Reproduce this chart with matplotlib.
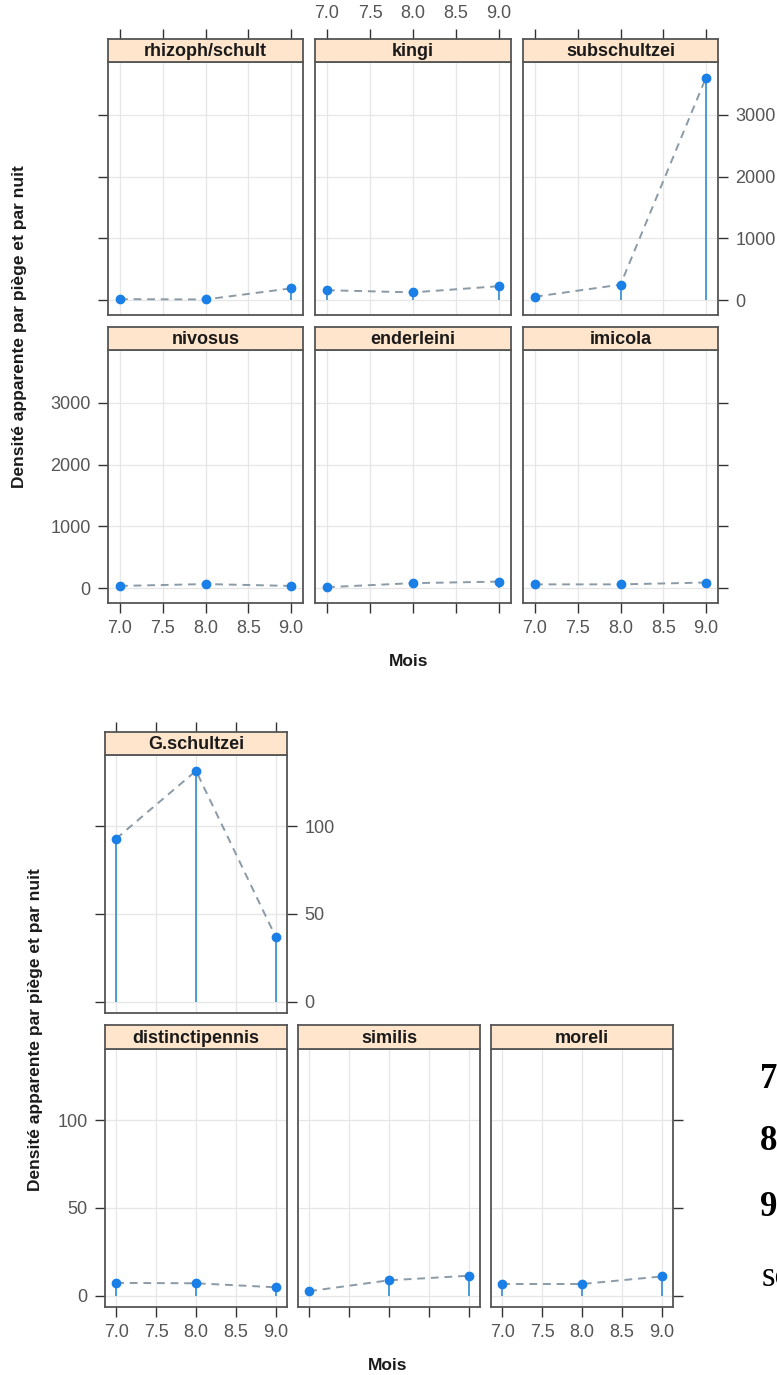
import numpy as np
import matplotlib
matplotlib.use('Agg')
import matplotlib.pyplot as plt

plt.rcParams['font.family'] = ['Liberation Sans', 'DejaVu Sans']

# donnees : densite apparente par piege et par nuit, mois 7 a 9
mois = [7.0, 8.0, 9.0]
x_ticks = [7.0, 7.5, 8.0, 8.5, 9.0]
x_labels = ['7.0', '7.5', '8.0', '8.5', '9.0']

# figure du haut
especes_1 = ['rhizoph/schult', 'kingi', 'subschultzei', 'nivosus', 'enderleini', 'imicola']
rhizoph = [15, 10, 190]
kingi = [160, 125, 225]
subschultzei = [55, 250, 3607]
nivosus = [35, 65, 35]
enderleini = [15, 80, 105]
imicola = [60, 60, 90]
y_ticks_1 = [0, 1000, 2000, 3000]

# figure du bas
especes_2 = ['G.schultzei', 'distinctipennis', 'similis', 'moreli']
g_schultzei = [93, 131.7, 36.8]
distinctipennis = [7.2, 7.0, 4.7]
similis = [2.5, 8.7, 11.3]
moreli = [6.6, 6.6, 10.9]
y_ticks_2 = [0, 50, 100]

W, H = 777, 1375
fig = plt.figure(figsize=(W / 100, H / 100), dpi=100)

drop_col = '#4b9ad6'
line_col = '#8a9aa6'
pt_col = '#1a7fe6'
strip_col = '#ffe5cc'
edge_col = '#555555'
tick_col = '#555555'
tick_kw = dict(direction='out', length=7.5, width=1, color='#333333',
               labelcolor=tick_col, labelsize=13, pad=5)


def rect(x0, y0, x1, y1):
    return [x0 / W, 1 - y1 / H, (x1 - x0) / W, (y1 - y0) / H]


def limites(vals):
    lo, hi = min(vals), max(vals)
    p = 0.07 * (hi - lo)
    return lo - p, hi + p


xlim = limites(mois)


def panel(x0, x1, st, yt, yb, nom, y, ylim, yticks, ax_cfg, haut=False, lhaut=False):
    ax = fig.add_axes(rect(x0, yt, x1, yb))
    ax.set_xlim(xlim)
    ax.set_ylim(ylim)
    for v in x_ticks:
        ax.axvline(v, color='#e6e6e6', lw=0.9, zorder=0)
    for v in yticks:
        ax.axhline(v, color='#e6e6e6', lw=0.9, zorder=0)
    ax.vlines(mois, 0, y, color=drop_col, lw=1.4, zorder=2)
    ax.plot(mois, y, ls=(0, (4, 3)), color=line_col, lw=1.4, zorder=3)
    ax.plot(mois, y, 'o', color=pt_col, ms=6, zorder=4)
    ax.set_xticks(x_ticks)
    ax.set_xticklabels(x_labels)
    ax.set_yticks(yticks)
    ax.set_yticklabels([str(v) for v in yticks])
    ax.tick_params(top=False, labeltop=False, **tick_kw, **ax_cfg)
    for s in ax.spines.values():
        s.set_color(edge_col)
        s.set_linewidth(1.3)
    # bande de titre, avec les graduations du haut
    sa = fig.add_axes(rect(x0, st, x1, yt))
    sa.set_facecolor(strip_col)
    sa.set_xlim(xlim)
    sa.set_xticks(x_ticks)
    sa.set_xticklabels(x_labels)
    sa.set_yticks([])
    sa.tick_params(axis='x', bottom=False, labelbottom=False, top=haut, labeltop=lhaut,
                   **tick_kw)
    for s in sa.spines.values():
        s.set_color(edge_col)
        s.set_linewidth(1.3)
    sa.text(0.5, 0.45, nom, ha='center', va='center', fontsize=13,
            fontweight='bold', color='#1a1a1a', transform=sa.transAxes)
    return ax


def cfg(bottom=False, left=False, right=False, lbottom=False, lleft=False, lright=False):
    return dict(bottom=bottom, left=left, right=right,
                labelbottom=lbottom, labelleft=lleft, labelright=lright)


# ---- haut ----
ylim1 = limites(rhizoph + kingi + subschultzei + nivosus + enderleini + imicola)
cols1 = [(108, 303), (315, 511), (523, 718)]
rows1 = [(39, 62, 315), (327, 350, 603)]
data1 = [rhizoph, kingi, subschultzei, nivosus, enderleini, imicola]
cfg1 = [
    cfg(left=True),
    cfg(),
    cfg(right=True, lright=True),
    cfg(bottom=True, left=True, lbottom=True, lleft=True),
    cfg(bottom=True),
    cfg(bottom=True, right=True, lbottom=True),
]
for i in range(6):
    r, c = divmod(i, 3)
    panel(cols1[c][0], cols1[c][1], rows1[r][0], rows1[r][1], rows1[r][2],
          especes_1[i], data1[i], ylim1, y_ticks_1, cfg1[i],
          haut=(r == 0), lhaut=(r == 0 and c == 1))

fig.text(20 / W, 1 - 327 / H, 'Densité apparente par piège et par nuit', rotation=90,
         ha='center', va='center', fontsize=12.5, fontweight='bold', color='#1a1a1a')
fig.text(409 / W, 1 - 662 / H, 'Mois', ha='center', va='center', fontsize=12.5,
         fontweight='bold', color='#1a1a1a')

# ---- bas ----
ylim2 = limites(g_schultzei + distinctipennis + similis + moreli)
cols2 = [(105, 287), (298, 480), (491, 673)]
panel(cols2[0][0], cols2[0][1], 732, 755, 1013, especes_2[0], g_schultzei, ylim2, y_ticks_2,
      cfg(left=True, right=True, lright=True), haut=True)
data2 = [distinctipennis, similis, moreli]
cfg2 = [
    cfg(bottom=True, left=True, lbottom=True, lleft=True),
    cfg(bottom=True),
    cfg(bottom=True, right=True, lbottom=True),
]
for c in range(3):
    panel(cols2[c][0], cols2[c][1], 1025, 1049, 1307, especes_2[c + 1], data2[c],
          ylim2, y_ticks_2, cfg2[c])

fig.text(36 / W, 1 - 1030 / H, 'Densité apparente par piège et par nuit', rotation=90,
         ha='center', va='center', fontsize=12.5, fontweight='bold', color='#1a1a1a')
fig.text(388 / W, 1 - 1365 / H, 'Mois', ha='center', va='center', fontsize=12.5,
         fontweight='bold', color='#1a1a1a')

# texte coupe a droite (comme dans l'original)
for t, yy in [('7', 1079), ('8', 1142), ('9', 1207)]:
    fig.text(760 / W, 1 - yy / H, t, ha='left', va='center', fontsize=25,
             fontweight='bold', family='Liberation Serif', color='black')
fig.text(762 / W, 1 - 1278 / H, 'sc', ha='left', va='center', fontsize=25,
         family='Liberation Serif', color='black')

fig.savefig('out.png', dpi=100)
